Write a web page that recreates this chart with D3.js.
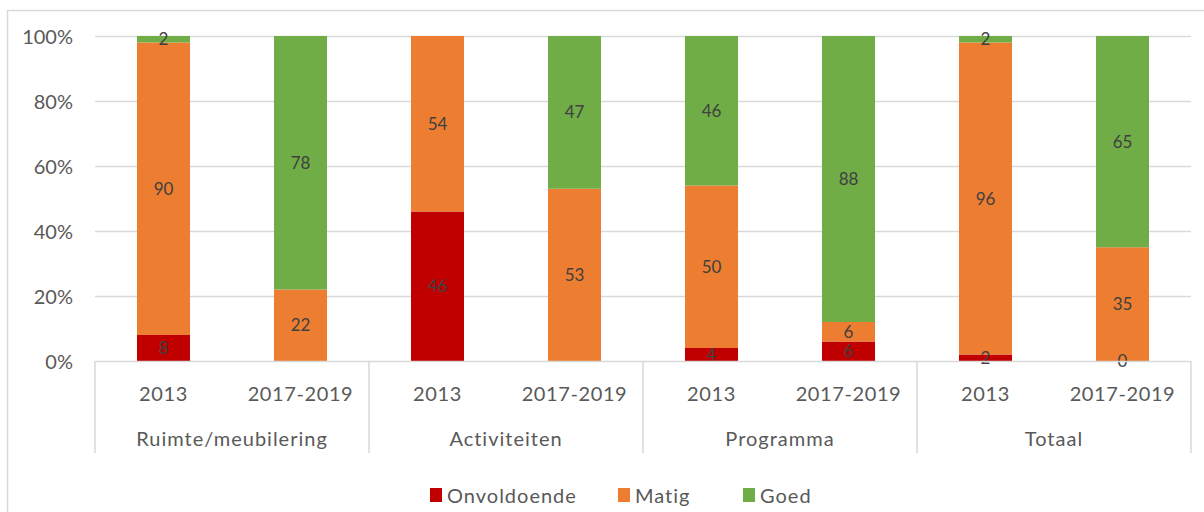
<!DOCTYPE html>
<html><head><meta charset="utf-8">
<script src="https://cdn.jsdelivr.net/npm/d3@7"></script>
<style>body{margin:0;background:#fff;}svg{display:block;font-family:Lato,"Open Sans",sans-serif;}</style>
</head><body><svg id="c" width="1204" height="512"></svg>
<script>
const groups = ["Ruimte/meubilering","Activiteiten","Programma","Totaal"];
const periods = ["2013","2017-2019"];
const seriesNames = ["Onvoldoende","Matig","Goed"];
const onvoldoende = [8, null, 46, null, 4, 6, 2, 0];
const matig = [90, 22, 54, 53, 50, 6, 96, 35];
const goed = [2, 78, null, 47, 46, 88, 2, 65];
const yTicks = [0,20,40,60,80,100];
const colors = ["#C00000","#ED7D31","#70AD47"];

const svg = d3.select("#c");
const L=95, R=1191, T=36, B=361;
const bars = [];
groups.forEach((g,gi)=>periods.forEach((p,pi)=>bars.push({id:gi*2+pi, group:g, period:p})));
const seriesVals = [onvoldoende, matig, goed];
const rows = bars.map((b,i)=>{const r={id:b.id}; seriesNames.forEach((s,k)=>r[s]=seriesVals[k][i]??0); return r;});
const stack = d3.stack().keys(seriesNames)(rows);

const x = d3.scaleBand().domain(bars.map(b=>b.id)).range([L,R]).paddingInner(0.613).paddingOuter(0.3065);
const y = d3.scaleLinear().domain([0,100]).range([B,T]);

// outer border
svg.append("rect").attr("x",7.5).attr("y",10.5).attr("width",1220).attr("height",520).attr("fill","#fff").attr("stroke","#d9d9d9").attr("stroke-width",1.5);

// gridlines
svg.append("g").selectAll("line").data(yTicks.filter(t=>t>0)).join("line")
 .attr("x1",L).attr("x2",R).attr("y1",d=>Math.round(y(d))+0.5).attr("y2",d=>Math.round(y(d))+0.5)
 .attr("stroke","#d9d9d9").attr("stroke-width",1.5);

// y axis labels
const yAxis = d3.axisLeft(y).tickValues(yTicks).tickFormat(d=>d+"%").tickSize(0).tickPadding(22);
const ya = svg.append("g").attr("transform",`translate(${L},0)`).call(yAxis);
ya.select(".domain").remove();
ya.selectAll("text").attr("font-size",20).attr("fill","#595959").attr("font-family","Lato").attr("dy","0.36em");

// bars
svg.append("g").selectAll("g").data(stack).join("g").attr("fill",(d,i)=>colors[i])
 .selectAll("rect").data(d=>d).join("rect")
 .attr("x",d=>x(d.data.id)).attr("width",x.bandwidth())
 .attr("y",d=>y(d[1])).attr("height",d=>y(d[0])-y(d[1]));

// data labels
const lbl = svg.append("g").attr("font-size",17).attr("fill","#404040").attr("text-anchor","middle");
stack.forEach((s,k)=>{
  s.forEach((d,i)=>{
    const v = seriesVals[k][i];
    if(v===null||v===undefined) return;
    lbl.append("text").attr("x",x(d.data.id)+x.bandwidth()/2)
      .attr("y",(y(d[0])+y(d[1]))/2).attr("dy","0.36em").text(v);
  });
});

// baseline
svg.append("line").attr("x1",L).attr("x2",R).attr("y1",B+0.5).attr("y2",B+0.5).attr("stroke","#d9d9d9").attr("stroke-width",1.5);

// category axis separators
const xg = d3.scaleBand().domain(groups).range([L,R]);
const seps = groups.map(g=>xg(g)).concat([R]);
svg.append("g").selectAll("line").data(seps).join("line")
 .attr("x1",d=>d).attr("x2",d=>d).attr("y1",B).attr("y2",453)
 .attr("stroke","#d9d9d9").attr("stroke-width",1.5);

// period labels
svg.append("g").selectAll("text").data(bars).join("text")
 .attr("x",d=>x(d.id)+x.bandwidth()/2).attr("y",401).attr("text-anchor","middle")
 .attr("font-size",20).attr("letter-spacing",0.6).attr("fill","#595959").text(d=>d.period);
// group labels
svg.append("g").selectAll("text").data(groups).join("text")
 .attr("x",d=>xg(d)+xg.bandwidth()/2).attr("y",446).attr("text-anchor","middle")
 .attr("font-size",20).attr("letter-spacing",1).attr("fill","#595959").text(d=>d);

// legend
const legX=[430,618,743];
const lg = svg.append("g").selectAll("g").data(seriesNames).join("g")
 .attr("transform",(d,i)=>`translate(${legX[i]},488)`);
lg.append("rect").attr("width",12).attr("height",14).attr("fill",(d,i)=>colors[i]);
lg.append("text").attr("x",17).attr("y",15).attr("font-size",20).attr("letter-spacing",1).attr("fill","#595959").text(d=>d);
</script></body></html>
